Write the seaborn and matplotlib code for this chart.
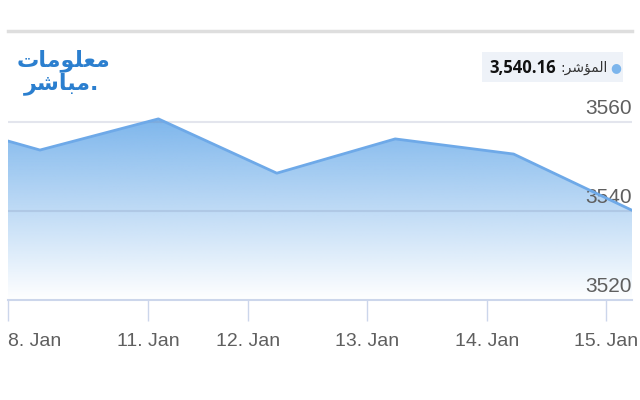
import numpy as np
import matplotlib
matplotlib.use("Agg")
import matplotlib.pyplot as plt
import seaborn as sns

sns.set_theme(style="white")
plt.rcParams['font.family'] = ['Liberation Sans', 'DejaVu Sans']

# data: session index and index level
sessions = [0, 1, 2, 3, 4, 5, 6]
index_values = [3561.2, 3553.7, 3560.7, 3548.5, 3556.2, 3552.8, 3540.16]
tick_pos = [0.730, 1.912, 2.757, 3.762, 4.775, 5.780]
tick_labels = ['8. Jan', '11. Jan', '12. Jan', '13. Jan', '14. Jan', '15. Jan']
y_ticks = [3520, 3540, 3560]
last_value = "3,540.16"
# Arabic in visual (shaped, left-to-right) order
label_ar = ":\ufeae\ufeb7\ufe86\ufee4\ufedf\ufe8d"          # المؤشر:
logo_top = "\ufe95\ufe8e\ufee3\ufeee\ufee0\ufecc\ufee3"      # معلومات
logo_bottom = "\ufeae\ufeb7\ufe8e\ufe92\ufee3."              # مباشر.

line_col = '#6ea9e8'
fill_col = np.array([124, 181, 236]) / 255
grey_txt = '#5f5f5f'

fig = plt.figure(figsize=(6.4, 4), dpi=100)
ax = fig.add_axes([8 / 640, 0.25, 624 / 640, 269 / 400])

x0, x1 = 0.730, 6.0
y0, y1 = 3520, 3580.45

# gradient area
poly = ax.fill_between(sessions, index_values, y0, facecolor='none', edgecolor='none')
grad = np.zeros((256, 2, 4))
a = np.linspace(1.0, 0.0, 256)
grad[:, :, :3] = fill_col
grad[:, :, 3] = a[:, None]
top = max(index_values)
im = ax.imshow(grad, extent=[sessions[0], sessions[-1], y0, top],
               aspect='auto', origin='upper', zorder=1)
im.set_clip_path(poly.get_paths()[0], transform=ax.transData)

sns.lineplot(x=sessions, y=index_values, ax=ax, color=line_col,
             linewidth=2, zorder=4)

for v in y_ticks[1:]:
    ax.axhline(v, color=(0.45, 0.5, 0.65, 0.2), linewidth=1.5, zorder=3)
for v in y_ticks:
    ax.annotate(f"{v}", xy=(1, v), xycoords=ax.get_yaxis_transform(),
                xytext=(0, 3), textcoords='offset points', ha='right',
                va='bottom', fontsize=15, color=grey_txt)

ax.set_xlim(x0, x1)
ax.set_ylim(y0, y1)
ax.set_yticks([])
ax.set_xticks(tick_pos, tick_labels)
ax.tick_params(axis='x', direction='out', length=15, width=1, color='#ccd6eb',
               pad=9, labelsize=14, labelcolor=grey_txt, bottom=True)
ax.get_xticklabels()[0].set_ha('left')

for s in ['left', 'right']:
    ax.spines[s].set_visible(False)
ax.spines['bottom'].set_color('#ccd6eb')
ax.spines['bottom'].set_linewidth(1.5)
ax.spines['top'].set_color('#dedede')
ax.spines['top'].set_linewidth(2.5)
ax.set_facecolor('white')

# tooltip box
fig.patches.append(plt.Rectangle((482 / 640, 1 - 82 / 400), 141 / 640, 30 / 400,
                                 transform=fig.transFigure, facecolor='#eef2f8',
                                 edgecolor='none', zorder=0))
fig.text(616 / 640, 1 - 68 / 400, "\u25cf", color='#7cb5ec', fontsize=9,
         ha='center', va='center', family=['DejaVu Sans'])
fig.text(608 / 640, 1 - 68 / 400, label_ar, color='#333333', fontsize=10,
         ha='right', va='center', family=['DejaVu Sans'])
fig.text(556 / 640, 1 - 68 / 400, last_value, color='#111111', fontsize=12,
         fontweight='bold', ha='right', va='center',
         family=['Open Sans', 'DejaVu Sans'])

# logo
fig.text(64 / 640, 1 - 61 / 400, logo_top, color='#2b7fcf', fontsize=16,
         fontweight='bold', ha='center', va='center', family=['DejaVu Sans'])
fig.text(62 / 640, 1 - 84 / 400, logo_bottom, color='#2b7fcf', fontsize=16,
         fontweight='bold', ha='center', va='center', family=['DejaVu Sans'])

fig.savefig("out.png", dpi=100, facecolor='white')
